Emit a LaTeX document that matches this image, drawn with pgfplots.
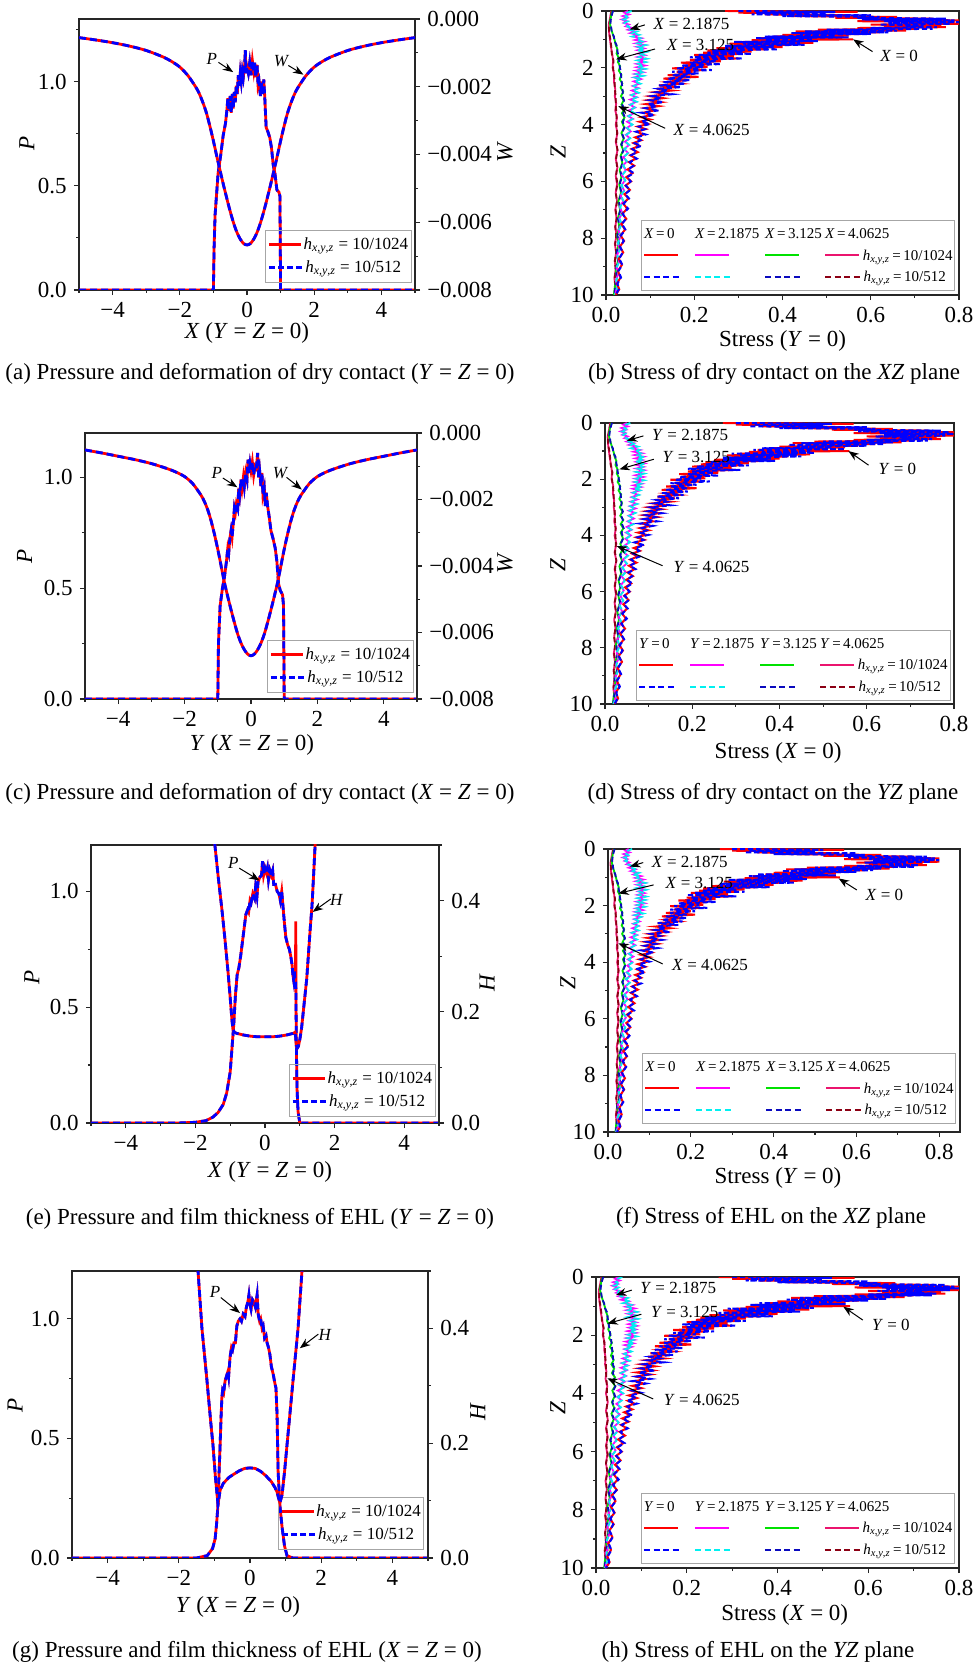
\documentclass[border=0pt]{standalone}
\usepackage{fontspec}
\setmainfont{Liberation Serif}
\usepackage{pgfplots}
\usepackage{pgfplotstable}
\pgfplotsset{compat=1.18}
\usetikzlibrary{arrows.meta}
\definecolor{cgreen}{RGB}{0,225,0}
\definecolor{cnavy}{RGB}{10,10,190}
\definecolor{ccrim}{RGB}{235,20,110}
\definecolor{cdred}{RGB}{140,0,20}
\definecolor{cmag}{RGB}{255,0,255}
\definecolor{ccyan}{RGB}{0,240,240}
\newcommand\tickfont{\fontsize{11.5}{13}\selectfont}
\newcommand\capfont{\fontsize{11.5}{13}\selectfont}
\newcommand\annfont{\fontsize{8.5}{10}\selectfont}
\newcommand\legfont{\fontsize{7.5}{9}\selectfont}
\newcommand\lleg{\fontsize{8.5}{10}\selectfont}
\newcommand\hxyz{\textit{h}\textsubscript{\textit{x},\textit{y},\textit{z}}}
\newcommand\sline[1]{\textcolor{#1}{\rule[0.55ex]{17pt}{1pt}}}
\newcommand\dline[1]{\textcolor{#1}{\rule[0.55ex]{3pt}{1pt}\hspace{1.8pt}\rule[0.55ex]{3pt}{1pt}\hspace{1.8pt}\rule[0.55ex]{3pt}{1pt}\hspace{1.8pt}\rule[0.55ex]{3pt}{1pt}}}
\newcommand\slineB[1]{\textcolor{#1}{\rule[0.5ex]{16pt}{1.4pt}}}
\newcommand\dlineB[1]{\textcolor{#1}{\rule[0.5ex]{3pt}{1.4pt}\hspace{1.6pt}\rule[0.5ex]{3pt}{1.4pt}\hspace{1.6pt}\rule[0.5ex]{3pt}{1.4pt}\hspace{1.6pt}\rule[0.5ex]{3pt}{1.4pt}}}
\pgfplotsset{
  base/.style={scale only axis, tick align=outside,
    axis line style={line width=0.6pt, black!85},
    every tick/.style={black!85, line width=0.6pt},
    major tick length=2.6pt, minor tick length=1.5pt,
    tick label style={font=\tickfont}, label style={font=\tickfont},
    scaled ticks=false},
  leftP/.style={base, xmin=-5, xmax=5, xtick={-4,-2,0,2,4}, xticklabels={−4,−2,0,2,4},
    minor xtick={-5,-3,-1,1,3,5}, tick pos=left, ytick={0,0.5,1}, yticklabels={0.0,0.5,1.0},
    minor ytick={0.25,0.75,1.25}},
  rightW/.style={base, xmin=-5, xmax=5, axis y line*=right, axis x line=none,
    ymin=-0.008, ymax=0, ytick={-0.008,-0.006,-0.004,-0.002,0},
    yticklabels={−0.008,−0.006,−0.004,−0.002,0.000}, minor ytick={-0.007,-0.005,-0.003,-0.001}},
  rightH/.style={base, xmin=-5, xmax=5, axis y line*=right, axis x line=none,
    ymin=0, ymax=0.5, ytick={0,0.2,0.4}, yticklabels={0.0,0.2,0.4}, minor ytick={0.1,0.3,0.5}},
  stress/.style={base, xmin=0, xmax=0.8, ymin=0, ymax=10, y dir=reverse,
    xtick={0,0.2,0.4,0.6,0.8}, xticklabels={0.0,0.2,0.4,0.6,0.8}, minor xtick={0.1,0.3,0.5,0.7},
    ytick={0,2,4,6,8,10}, yticklabels={0,2,4,6,8,10}, minor ytick={1,3,5,7,9}, tick pos=left},
  Pline/.style={red, line width=1.4pt},
  Pdash/.style={blue, line width=1.4pt, dash pattern=on 3.5pt off 2pt},
  sC1/.style={red, line width=1pt},
  sC1d/.style={blue, line width=1pt, dash pattern=on 2.5pt off 1.5pt},
  sC2/.style={cmag, line width=0.9pt},
  sC2d/.style={ccyan, line width=0.9pt, dash pattern=on 2.5pt off 1.5pt},
  sC3/.style={cgreen, line width=0.9pt},
  sC3d/.style={cnavy, line width=0.9pt, dash pattern=on 2.5pt off 1.5pt},
  sC4/.style={ccrim, line width=0.9pt},
  sC4d/.style={cdred, line width=0.9pt, dash pattern=on 2.5pt off 1.5pt},
}
\newcommand\stressplots{%
  \addplot[sC4] table[x=a,y=Z]{\TD};
  \addplot[sC4d] table[x=b,y=Z]{\TD};
  \addplot[sC3] table[x=a,y=Z]{\TC};
  \addplot[sC3d] table[x=b,y=Z]{\TC};
  \addplot[sC2] table[x=a,y=Z]{\TB};
  \addplot[sC2d] table[x=b,y=Z]{\TB};
  \addplot[sC1] table[x=a,y=Z]{\TA};
  \addplot[sC1d] table[x=b,y=Z]{\TA};
}
\newcommand\stresslegend[2]{%
  \node[draw=gray!70, line width=0.5pt, anchor=south east, inner sep=1.2pt, font=\legfont] at (rel axis cs:0.99,#2) {%
  \setlength\tabcolsep{0pt}\renewcommand\arraystretch{1.2}%
  \begin{tabular}{p{25.5pt}p{35pt}p{30pt}l}
  \textit{#1}\,=\,0 & \textit{#1}\,=\,2.1875 & \textit{#1}\,=\,3.125 & \textit{#1}\,=\,4.0625\\
  \sline{red} & \sline{cmag} & \sline{cgreen} & \sline{ccrim}\ \hxyz{}\,=\,10/1024\\
  \dline{blue} & \dline{ccyan} & \dline{cnavy} & \dline{cdred}\ \hxyz{}\,=\,10/512
  \end{tabular}};}
\newcommand\leftlegend[1]{%
  \node[draw=gray!70, line width=0.5pt, anchor=south east, inner sep=1.5pt, font=\lleg] at (rel axis cs:0.99,#1) {%
  \renewcommand\arraystretch{1.15}%
  \begin{tabular}{@{}l@{}}
  \slineB{red}\,\hxyz{} = 10/1024\\
  \dlineB{blue}\,\hxyz{} = 10/512
  \end{tabular}};}
\begin{document}
% ---------- pressure / deformation data ----------
\pgfplotstableread{
X P
-5 0
-1.0 0
-0.98 0.2
-0.95 0.36
-0.86 0.56
-0.78 0.65
-0.71 0.74
-0.64 0.8
-0.6 0.86
-0.57 0.92
-0.54 0.86
-0.5 0.93
-0.47 0.85
-0.44 0.94
-0.41 0.87
-0.38 0.95
-0.35 0.9
-0.32 0.98
-0.29 0.94
-0.26 1.03
-0.23 0.98
-0.2 1.04
-0.17 1.0
-0.14 1.05
-0.11 1.02
-0.07 1.08
-0.05 1.15
-0.03 1.04
0.0 1.07
0.04 1.04
0.08 1.09
0.12 1.03
0.16 1.1
0.2 1.05
0.23 1.09
0.26 1.02
0.3 1.08
0.33 0.98
0.36 1.0
0.4 0.93
0.43 1.0
0.46 0.94
0.5 1.01
0.53 0.92
0.57 0.78
0.62 0.76
0.68 0.73
0.73 0.68
0.78 0.6
0.83 0.56
0.89 0.48
0.95 0.47
0.98 0.45
1.0 0.0
5 0
}\PA
\pgfplotstableread{
X W
-5 -0.00055
-4.5 -0.00062
-4 -0.00070
-3.5 -0.00080
-3 -0.00093
-2.5 -0.00112
-2.25 -0.00125
-2 -0.00142
-1.75 -0.00168
-1.5 -0.00205
-1.4 -0.00225
-1.3 -0.00250
-1.2 -0.00280
-1.1 -0.00318
-1.0 -0.00360
-0.9 -0.00405
-0.8 -0.00448
-0.7 -0.00490
-0.6 -0.00530
-0.5 -0.00568
-0.4 -0.00602
-0.3 -0.00630
-0.2 -0.00650
-0.1 -0.00663
0 -0.00667
0.1 -0.00663
0.2 -0.00650
0.3 -0.00630
0.4 -0.00602
0.5 -0.00568
0.6 -0.00530
0.7 -0.00490
0.8 -0.00448
0.9 -0.00405
1.0 -0.00360
1.1 -0.00318
1.2 -0.00280
1.3 -0.00250
1.4 -0.00225
1.5 -0.00205
1.75 -0.00168
2 -0.00142
2.25 -0.00125
2.5 -0.00112
3 -0.00093
3.5 -0.00080
4 -0.00070
4.5 -0.00062
5 -0.00055
}\WA
\pgfplotstableread{
X P
-5 0
-1.0 0
-0.98 0.25
-0.93 0.42
-0.86 0.5
-0.8 0.55
-0.74 0.62
-0.7 0.68
-0.67 0.66
-0.64 0.72
-0.6 0.76
-0.57 0.73
-0.53 0.8
-0.5 0.86
-0.47 0.84
-0.44 0.88
-0.4 0.86
-0.37 0.95
-0.34 0.92
-0.3 0.99
-0.27 0.95
-0.23 1.0
-0.2 0.96
-0.16 1.02
-0.12 0.99
-0.09 1.08
-0.06 1.02
-0.03 1.06
0.0 1.03
0.04 1.07
0.08 1.01
0.12 1.05
0.16 1.04
0.2 1.11
0.23 1.0
0.26 1.03
0.3 0.96
0.33 1.02
0.36 0.92
0.4 0.95
0.43 0.87
0.46 0.93
0.5 0.87
0.55 0.82
0.6 0.76
0.67 0.72
0.73 0.68
0.78 0.62
0.83 0.52
0.88 0.49
0.95 0.47
0.98 0.42
1.0 0.0
5 0
}\PC
\pgfplotstableread{
X W
-5 -0.00051
-4.5 -0.00060
-4 -0.00070
-3.5 -0.00080
-3 -0.00092
-2.5 -0.00108
-2.25 -0.00118
-2 -0.00131
-1.75 -0.00153
-1.5 -0.00188
-1.4 -0.00207
-1.3 -0.00232
-1.2 -0.00265
-1.1 -0.00305
-1.0 -0.00350
-0.9 -0.00400
-0.8 -0.00450
-0.7 -0.00492
-0.6 -0.00532
-0.5 -0.00570
-0.4 -0.00605
-0.3 -0.00632
-0.2 -0.00652
-0.1 -0.00665
0 -0.00670
0.1 -0.00665
0.2 -0.00652
0.3 -0.00632
0.4 -0.00605
0.5 -0.00570
0.6 -0.00532
0.7 -0.00492
0.8 -0.00450
0.9 -0.00400
1.0 -0.00350
1.1 -0.00305
1.2 -0.00265
1.3 -0.00232
1.4 -0.00207
1.5 -0.00188
1.75 -0.00153
2 -0.00131
2.25 -0.00118
2.5 -0.00108
3 -0.00092
3.5 -0.00080
4 -0.00070
4.5 -0.00060
5 -0.00051
}\WC
\pgfplotstableread{
X P Q
-5 0 0
-2.5 0 0
-2.0 0.003 0.003
-1.7 0.01 0.01
-1.5 0.025 0.025
-1.35 0.045 0.045
-1.2 0.08 0.08
-1.1 0.13 0.13
-1.0 0.22 0.22
-0.95 0.32 0.32
-0.9 0.42 0.42
-0.85 0.55 0.55
-0.8 0.64 0.64
-0.75 0.67 0.67
-0.7 0.72 0.72
-0.65 0.78 0.78
-0.6 0.84 0.84
-0.55 0.9 0.9
-0.5 0.92 0.92
-0.47 0.91 0.91
-0.43 0.96 0.96
-0.4 0.95 0.95
-0.35 0.99 0.99
-0.3 0.97 0.97
-0.27 1.02 1.02
-0.23 0.98 0.98
-0.2 1.04 1.04
-0.15 1.06 1.06
-0.1 1.07 1.07
-0.07 1.13 1.13
-0.04 1.07 1.07
0.0 1.1 1.1
0.04 1.08 1.08
0.07 1.1 1.1
0.1 1.05 1.05
0.14 1.09 1.09
0.18 1.07 1.07
0.22 1.09 1.09
0.25 1.03 1.03
0.3 1.03 1.03
0.35 1.0 1.0
0.4 0.99 0.99
0.44 0.96 0.96
0.48 1.0 1.0
0.52 0.93 0.93
0.56 0.86 0.86
0.6 0.8 0.8
0.65 0.77 0.77
0.7 0.75 0.75
0.74 0.72 0.72
0.78 0.68 0.68
0.8 0.64 0.64
0.82 0.62 0.62
0.84 0.66 0.66
0.86 0.62 0.62
0.875 0.63 0.62
0.885 0.87 0.6
0.89 0.55 0.55
0.9 0.35 0.35
0.92 0.15 0.15
0.95 0.05 0.05
1.0 0.0 0.0
5 0 0
}\PE
\pgfplotstableread{
X H
-1.6 0.62
-1.44 0.50
-1.34 0.44
-1.24 0.385
-1.15 0.33
-1.06 0.27
-1.0 0.225
-0.95 0.185
-0.92 0.168
-0.88 0.163
-0.8 0.161
-0.6 0.158
-0.4 0.156
-0.2 0.155
0 0.155
0.2 0.155
0.4 0.156
0.6 0.158
0.8 0.161
0.86 0.163
0.88 0.155
0.9 0.14
0.93 0.135
0.96 0.138
1.0 0.15
1.05 0.17
1.1 0.2
1.2 0.26
1.3 0.35
1.35 0.39
1.4 0.45
1.44 0.5
1.55 0.6
}\HE
\pgfplotstableread{
X P
-5 0
-1.5 0
-1.2 0.01
-1.05 0.04
-0.98 0.08
-0.94 0.14
-0.9 0.22
-0.87 0.35
-0.84 0.47
-0.81 0.6
-0.79 0.67
-0.77 0.7
-0.74 0.69
-0.7 0.74
-0.66 0.76
-0.62 0.78
-0.6 0.76
-0.56 0.84
-0.52 0.88
-0.49 0.87
-0.45 0.9
-0.41 0.9
-0.37 0.97
-0.33 0.99
-0.28 1.0
-0.24 0.99
-0.19 1.02
-0.14 1.01
-0.1 1.05
-0.06 1.07
-0.03 1.1
0.0 1.06
0.03 1.04
0.07 1.08
0.11 1.07
0.15 1.05
0.2 1.1
0.23 1.02
0.27 0.99
0.3 1.0
0.34 0.96
0.37 0.97
0.41 0.92
0.45 0.93
0.48 0.9
0.52 0.88
0.56 0.85
0.6 0.8
0.65 0.77
0.7 0.73
0.73 0.71
0.76 0.6
0.79 0.36
0.84 0.22
0.9 0.13
0.97 0.05
1.04 0.01
1.2 0.0
5 0
}\PG
\pgfplotstableread{
X H
-1.6 0.62
-1.46 0.5
-1.35 0.40
-1.21 0.31
-1.1 0.235
-1.04 0.197
-0.97 0.14
-0.9 0.094
-0.87 0.105
-0.84 0.118
-0.75 0.13
-0.6 0.14
-0.48 0.145
-0.3 0.152
-0.15 0.156
0 0.157
0.15 0.156
0.3 0.151
0.45 0.143
0.6 0.133
0.7 0.123
0.76 0.115
0.8 0.105
0.84 0.096
0.9 0.11
0.97 0.15
1.04 0.197
1.12 0.25
1.21 0.31
1.35 0.40
1.46 0.5
1.6 0.62
}\HG
% ---------- stress data ----------
\pgfplotstableread{
Z a b
0.00 0.27 0.30
0.03 0.57 0.52
0.06 0.30 0.34
0.09 0.45 0.50
0.12 0.36 0.33
0.15 0.55 0.60
0.18 0.42 0.40
0.21 0.66 0.62
0.24 0.52 0.57
0.27 0.74 0.77
0.30 0.60 0.58
0.33 0.80 0.79
0.36 0.57 0.63
0.39 0.79 0.80
0.42 0.68 0.64
0.45 0.80 0.78
0.48 0.60 0.62
0.51 0.76 0.72
0.54 0.63 0.68
0.57 0.77 0.75
0.60 0.57 0.60
0.63 0.70 0.74
0.66 0.48 0.50
0.69 0.68 0.66
0.72 0.43 0.45
0.75 0.62 0.64
0.78 0.47 0.42
0.81 0.58 0.60
0.84 0.40 0.44
0.87 0.55 0.52
0.90 0.38 0.36
0.93 0.50 0.55
0.96 0.35 0.34
1.00 0.56 0.47
1.03 0.33 0.36
1.06 0.46 0.48
1.09 0.31 0.29
1.12 0.47 0.44
1.15 0.28 0.31
1.19 0.42 0.45
1.23 0.29 0.27
1.27 0.40 0.38
1.31 0.25 0.27
1.35 0.36 0.39
1.39 0.23 0.24
1.43 0.33 0.31
1.47 0.22 0.23
1.51 0.31 0.33
1.55 0.20 0.21
1.59 0.29 0.27
1.63 0.21 0.19
1.67 0.30 0.31
1.72 0.19 0.20
1.77 0.26 0.25
1.82 0.17 0.19
1.87 0.24 0.26
1.92 0.18 0.17
1.97 0.23 0.22
2.02 0.15 0.16
2.08 0.22 0.24
2.14 0.16 0.15
2.20 0.20 0.21
2.26 0.14 0.15
2.32 0.21 0.19
2.38 0.13 0.14
2.44 0.18 0.19
2.50 0.14 0.13
2.56 0.17 0.18
2.62 0.12 0.12
2.68 0.16 0.17
2.74 0.115 0.12
2.80 0.15 0.14
2.86 0.11 0.115
2.93 0.14 0.15
3.00 0.10 0.105
3.07 0.13 0.125
3.14 0.095 0.10
3.21 0.125 0.13
3.28 0.09 0.095
3.35 0.12 0.115
3.42 0.088 0.09
3.50 0.11 0.12
3.58 0.085 0.08
3.66 0.105 0.11
3.74 0.08 0.085
3.82 0.10 0.095
3.90 0.076 0.08
3.98 0.095 0.10
4.07 0.072 0.075
4.16 0.09 0.088
4.25 0.07 0.068
4.35 0.085 0.09
4.45 0.066 0.07
4.55 0.08 0.078
4.65 0.062 0.065
4.75 0.075 0.08
4.86 0.058 0.06
4.97 0.072 0.07
5.08 0.055 0.057
5.20 0.068 0.07
5.32 0.052 0.054
5.45 0.064 0.062
5.58 0.049 0.05
5.71 0.06 0.063
5.85 0.046 0.048
6.00 0.057 0.056
6.15 0.044 0.045
6.30 0.054 0.055
6.45 0.042 0.043
6.60 0.051 0.052
6.78 0.039 0.04
6.96 0.048 0.05
7.14 0.037 0.038
7.32 0.046 0.045
7.50 0.035 0.036
7.70 0.043 0.044
7.90 0.033 0.034
8.10 0.041 0.04
8.30 0.031 0.032
8.50 0.039 0.038
8.72 0.029 0.03
8.94 0.036 0.037
9.16 0.027 0.028
9.38 0.033 0.034
9.60 0.025 0.026
9.80 0.03 0.029
10.00 0.022 0.022
}\TA
\pgfplotstableread{
Z a b
0.00 0.05 0.058
0.06 0.042 0.048
0.12 0.052 0.05
0.18 0.038 0.044
0.24 0.048 0.052
0.30 0.036 0.04
0.36 0.047 0.05
0.42 0.04 0.042
0.48 0.052 0.05
0.54 0.045 0.048
0.60 0.06 0.058
0.66 0.05 0.054
0.72 0.066 0.07
0.78 0.055 0.06
0.84 0.072 0.075
0.90 0.062 0.06
0.96 0.08 0.078
1.02 0.066 0.07
1.08 0.085 0.082
1.14 0.068 0.072
1.20 0.088 0.09
1.26 0.07 0.074
1.32 0.086 0.088
1.38 0.072 0.07
1.44 0.09 0.092
1.50 0.074 0.076
1.56 0.088 0.086
1.62 0.072 0.075
1.68 0.09 0.092
1.74 0.073 0.072
1.80 0.087 0.09
1.86 0.07 0.074
1.92 0.088 0.085
1.98 0.07 0.072
2.04 0.086 0.089
2.10 0.068 0.07
2.16 0.084 0.082
2.22 0.066 0.069
2.28 0.082 0.085
2.34 0.064 0.066
2.40 0.079 0.08
2.48 0.063 0.065
2.56 0.076 0.078
2.64 0.061 0.063
2.72 0.074 0.073
2.80 0.059 0.061
2.88 0.072 0.074
2.96 0.057 0.058
3.04 0.07 0.069
3.12 0.055 0.057
3.20 0.068 0.07
3.30 0.054 0.055
3.40 0.066 0.065
3.50 0.052 0.054
3.60 0.063 0.065
3.70 0.05 0.051
3.80 0.061 0.06
3.90 0.048 0.05
4.00 0.059 0.06
4.12 0.047 0.048
4.24 0.056 0.057
4.36 0.045 0.046
4.48 0.054 0.055
4.60 0.043 0.044
4.72 0.052 0.053
4.86 0.041 0.042
5.00 0.05 0.05
5.15 0.039 0.04
5.30 0.047 0.048
5.45 0.038 0.039
5.60 0.045 0.046
5.78 0.036 0.037
5.96 0.043 0.044
6.14 0.035 0.035
6.32 0.041 0.042
6.50 0.033 0.034
6.70 0.039 0.04
6.90 0.031 0.032
7.10 0.037 0.038
7.30 0.03 0.03
7.50 0.035 0.036
7.72 0.028 0.029
7.94 0.033 0.034
8.16 0.027 0.027
8.38 0.031 0.032
8.60 0.025 0.026
8.82 0.03 0.03
9.04 0.024 0.024
9.26 0.028 0.029
9.48 0.022 0.023
9.70 0.026 0.026
10.00 0.02 0.02
}\TB
\pgfplotstableread{
Z a b
0.00 0.015 0.016
0.15 0.012 0.013
0.30 0.01 0.011
0.45 0.009 0.01
0.60 0.011 0.012
0.75 0.014 0.013
0.90 0.017 0.018
1.05 0.02 0.019
1.20 0.022 0.024
1.35 0.026 0.025
1.50 0.024 0.027
1.65 0.029 0.028
1.80 0.027 0.03
1.95 0.032 0.031
2.10 0.029 0.033
2.25 0.035 0.034
2.40 0.031 0.035
2.55 0.037 0.036
2.70 0.033 0.037
2.85 0.039 0.038
3.00 0.034 0.037
3.15 0.04 0.041
3.30 0.035 0.037
3.45 0.042 0.041
3.60 0.036 0.039
3.75 0.042 0.043
3.90 0.036 0.038
4.10 0.041 0.042
4.30 0.035 0.036
4.50 0.04 0.041
4.70 0.034 0.035
4.90 0.039 0.04
5.10 0.033 0.034
5.35 0.037 0.038
5.60 0.031 0.032
5.85 0.035 0.036
6.10 0.03 0.031
6.40 0.034 0.035
6.70 0.028 0.029
7.00 0.032 0.033
7.30 0.027 0.027
7.60 0.03 0.031
7.90 0.025 0.026
8.20 0.029 0.029
8.50 0.024 0.024
8.80 0.027 0.028
9.10 0.022 0.022
9.40 0.025 0.025
9.70 0.02 0.021
10.00 0.018 0.019
}\TC
\pgfplotstableread{
Z a b
0.00 0.012 0.013
0.25 0.009 0.01
0.50 0.006 0.007
0.75 0.007 0.007
1.00 0.009 0.01
1.25 0.011 0.012
1.50 0.014 0.013
1.75 0.016 0.017
2.00 0.015 0.016
2.25 0.019 0.018
2.50 0.018 0.02
2.75 0.021 0.02
3.00 0.02 0.022
3.25 0.023 0.022
3.50 0.021 0.023
3.75 0.025 0.024
4.00 0.022 0.024
4.30 0.026 0.025
4.60 0.022 0.023
4.90 0.026 0.026
5.20 0.022 0.023
5.50 0.026 0.025
5.80 0.022 0.023
6.10 0.025 0.026
6.40 0.022 0.022
6.70 0.025 0.025
7.00 0.021 0.022
7.30 0.024 0.024
7.60 0.021 0.021
7.90 0.024 0.023
8.20 0.02 0.021
8.50 0.023 0.023
8.80 0.02 0.02
9.10 0.022 0.022
9.40 0.019 0.02
9.70 0.021 0.021
10.00 0.019 0.02
}\TD
\begin{tikzpicture}
\useasboundingbox (0,0) rectangle (488.5pt,832.5pt);
% ================= (a) =================
\begin{axis}[leftP, at={(39.5pt,687.5pt)}, width=168pt, height=135.5pt, ymin=0, ymax=1.3,
  xlabel={\textit{X} (\textit{Y} = \textit{Z} = 0)}, ylabel={\textit{P}},
  xlabel style={at={(axis description cs:0.5,-0.159)},anchor=center},
  ylabel style={at={(axis description cs:-0.155,0.54)},anchor=center}]
  \addplot[Pline] table[x=X,y=P]{\PA};
  \addplot[Pdash] table[x=X,y=P]{\PA};
  \node[font=\annfont] at (axis cs:-1.05,1.109) {\textit{P}};
  \draw[-Stealth, line width=0.5pt] (axis cs:-0.85,1.092) -- (axis cs:-0.41,1.045);
  \node[font=\annfont] at (axis cs:1.03,1.10) {\textit{W}};
  \draw[-Stealth, line width=0.5pt] (axis cs:1.23,1.077) -- (axis cs:1.68,1.033);
  \leftlegend{0.026}
\end{axis}
\begin{axis}[rightW, at={(39.5pt,687.5pt)}, width=168pt, height=135.5pt, ylabel={\textit{W}},
  ylabel style={at={(axis description cs:1.268,0.51)},anchor=center}]
  \addplot[Pline, smooth] table[x=X,y=W]{\WA};
  \addplot[Pdash, smooth] table[x=X,y=W]{\WA};
\end{axis}
% ================= (b) =================
\begin{axis}[stress, at={(303pt,685pt)}, width=176.5pt, height=142pt,
  xlabel={Stress (\textit{Y} = 0)}, ylabel={\textit{Z}},
  xlabel style={at={(axis description cs:0.5,-0.162)},anchor=center},
  ylabel style={at={(axis description cs:-0.136,0.504)},anchor=center}]
  \stressplots
  \node[font=\annfont, anchor=west] at (axis cs:0.092,0.46) {\textit{X} = 2.1875};
  \draw[-Stealth, line width=0.5pt] (axis cs:0.088,0.49) -- (axis cs:0.054,0.65);
  \node[font=\annfont, anchor=west] at (axis cs:0.122,1.2) {\textit{X} = 3.125};
  \draw[-Stealth, line width=0.5pt] (axis cs:0.111,1.34) -- (axis cs:0.023,1.7);
  \node[font=\annfont, anchor=west] at (axis cs:0.1375,4.19) {\textit{X} = 4.0625};
  \draw[-Stealth, line width=0.5pt] (axis cs:0.134,4.13) -- (axis cs:0.028,3.35);
  \node[font=\annfont, anchor=west] at (axis cs:0.606,1.58) {\textit{X} = 0};
  \draw[-Stealth, line width=0.5pt] (axis cs:0.604,1.43) -- (axis cs:0.56,1.0);
  \stresslegend{X}{0.014}
\end{axis}
% ================= (c) =================
\begin{axis}[leftP, at={(42.5pt,483pt)}, width=166pt, height=133pt, ymin=0, ymax=1.2,
  minor ytick={0.25,0.75},
  xlabel={\textit{Y} (\textit{X} = \textit{Z} = 0)}, ylabel={\textit{P}},
  xlabel style={at={(axis description cs:0.503,-0.173)},anchor=center},
  ylabel style={at={(axis description cs:-0.182,0.534)},anchor=center}]
  \addplot[Pline] table[x=X,y=P]{\PC};
  \addplot[Pdash] table[x=X,y=P]{\PC};
  \node[font=\annfont] at (axis cs:-1.03,1.02) {\textit{P}};
  \draw[-Stealth, line width=0.5pt] (axis cs:-0.85,0.997) -- (axis cs:-0.41,0.955);
  \node[font=\annfont] at (axis cs:0.89,1.02) {\textit{W}};
  \draw[-Stealth, line width=0.5pt] (axis cs:1.07,1.0) -- (axis cs:1.53,0.945);
  \leftlegend{0.023}
\end{axis}
\begin{axis}[rightW, at={(42.5pt,483pt)}, width=166pt, height=133pt, ylabel={\textit{W}},
  ylabel style={at={(axis description cs:1.265,0.511)},anchor=center}]
  \addplot[Pline, smooth] table[x=X,y=W]{\WC};
  \addplot[Pdash, smooth] table[x=X,y=W]{\WC};
\end{axis}
% ================= (d) =================
\begin{axis}[stress, at={(302.5pt,480.5pt)}, width=174.5pt, height=140.5pt,
  xlabel={Stress (\textit{X} = 0)}, ylabel={\textit{Z}},
  xlabel style={at={(axis description cs:0.496,-0.174)},anchor=center},
  ylabel style={at={(axis description cs:-0.135,0.495)},anchor=center}]
  \stressplots
  \node[font=\annfont, anchor=west] at (axis cs:0.092,0.43) {\textit{Y} = 2.1875};
  \draw[-Stealth, line width=0.5pt] (axis cs:0.088,0.46) -- (axis cs:0.05,0.63);
  \node[font=\annfont, anchor=west] at (axis cs:0.116,1.2) {\textit{Y} = 3.125};
  \draw[-Stealth, line width=0.5pt] (axis cs:0.112,1.29) -- (axis cs:0.033,1.65);
  \node[font=\annfont, anchor=west] at (axis cs:0.141,5.11) {\textit{Y} = 4.0625};
  \draw[-Stealth, line width=0.5pt] (axis cs:0.132,5.08) -- (axis cs:0.027,4.38);
  \node[font=\annfont, anchor=west] at (axis cs:0.611,1.65) {\textit{Y} = 0};
  \draw[-Stealth, line width=0.5pt] (axis cs:0.604,1.5) -- (axis cs:0.558,1.0);
  \stresslegend{Y}{0.011}
\end{axis}
% ================= (e) =================
\begin{axis}[leftP, at={(45.5pt,271pt)}, width=174pt, height=139pt, ymin=0, ymax=1.2,
  minor ytick={0.25,0.75},
  xlabel={\textit{X} (\textit{Y} = \textit{Z} = 0)}, ylabel={\textit{P}},
  xlabel style={at={(axis description cs:0.514,-0.176)},anchor=center},
  ylabel style={at={(axis description cs:-0.17,0.525)},anchor=center}]
  \addplot[Pline] table[x=X,y=P]{\PE};
  \addplot[Pdash] table[x=X,y=Q]{\PE};
  \node[font=\annfont] at (axis cs:-0.91,1.122) {\textit{P}};
  \draw[-Stealth, line width=0.5pt] (axis cs:-0.74,1.10) -- (axis cs:-0.16,1.047);
  \node[font=\annfont] at (axis cs:2.06,0.961) {\textit{H}};
  \draw[-Stealth, line width=0.5pt] (axis cs:1.89,0.967) -- (axis cs:1.37,0.911);
  \leftlegend{0.022}
\end{axis}
\begin{axis}[rightH, at={(45.5pt,271pt)}, width=174pt, height=139pt, ylabel={\textit{H}},
  ylabel style={at={(axis description cs:1.138,0.504)},anchor=center}]
  \addplot[Pline] table[x=X,y=H]{\HE};
  \addplot[Pdash] table[x=X,y=H]{\HE};
\end{axis}
% ================= (f) =================
\begin{axis}[stress, at={(304pt,266.5pt)}, width=176pt, height=141.5pt, xmax=0.85,
  xlabel={Stress (\textit{Y} = 0)}, ylabel={\textit{Z}},
  xlabel style={at={(axis description cs:0.483,-0.163)},anchor=center},
  ylabel style={at={(axis description cs:-0.114,0.527)},anchor=center}]
  \stressplots
  \node[font=\annfont, anchor=west] at (axis cs:0.089,0.45) {\textit{X} = 2.1875};
  \draw[-Stealth, line width=0.5pt] (axis cs:0.085,0.48) -- (axis cs:0.053,0.62);
  \node[font=\annfont, anchor=west] at (axis cs:0.122,1.19) {\textit{X} = 3.125};
  \draw[-Stealth, line width=0.5pt] (axis cs:0.11,1.27) -- (axis cs:0.025,1.57);
  \node[font=\annfont, anchor=west] at (axis cs:0.138,4.1) {\textit{X} = 4.0625};
  \draw[-Stealth, line width=0.5pt] (axis cs:0.132,4.06) -- (axis cs:0.025,3.33);
  \node[font=\annfont, anchor=west] at (axis cs:0.605,1.63) {\textit{X} = 0};
  \draw[-Stealth, line width=0.5pt] (axis cs:0.601,1.45) -- (axis cs:0.557,1.04);
  \stresslegend{X}{0.028}
\end{axis}
% ================= (g) =================
\begin{axis}[leftP, at={(36pt,53.5pt)}, width=178pt, height=143.5pt, ymin=0, ymax=1.2,
  minor ytick={0.25,0.75},
  xlabel={\textit{Y} (\textit{X} = \textit{Z} = 0)}, ylabel={\textit{P}},
  xlabel style={at={(axis description cs:0.466,-0.171)},anchor=center},
  ylabel style={at={(axis description cs:-0.16,0.533)},anchor=center}]
  \addplot[Pline] table[x=X,y=P]{\PG};
  \addplot[Pdash] table[x=X,y=P]{\PG};
  \node[font=\annfont] at (axis cs:-0.98,1.114) {\textit{P}};
  \draw[-Stealth, line width=0.5pt] (axis cs:-0.82,1.089) -- (axis cs:-0.28,1.024);
  \node[font=\annfont] at (axis cs:2.11,0.933) {\textit{H}};
  \draw[-Stealth, line width=0.5pt] (axis cs:1.92,0.936) -- (axis cs:1.40,0.877);
  \leftlegend{0.028}
\end{axis}
\begin{axis}[rightH, at={(36pt,53.5pt)}, width=178pt, height=143.5pt, ylabel={\textit{H}},
  ylabel style={at={(axis description cs:1.14,0.509)},anchor=center}]
  \addplot[Pline] table[x=X,y=H]{\HG};
  \addplot[Pdash] table[x=X,y=H]{\HG};
\end{axis}
% ================= (h) =================
\begin{axis}[stress, at={(298pt,48.5pt)}, width=181.5pt, height=145.5pt,
  xlabel={Stress (\textit{X} = 0)}, ylabel={\textit{Z}},
  xlabel style={at={(axis description cs:0.52,-0.162)},anchor=center},
  ylabel style={at={(axis description cs:-0.105,0.55)},anchor=center}]
  \stressplots
  \node[font=\annfont, anchor=west] at (axis cs:0.082,0.39) {\textit{Y} = 2.1875};
  \draw[-Stealth, line width=0.5pt] (axis cs:0.079,0.45) -- (axis cs:0.044,0.62);
  \node[font=\annfont, anchor=west] at (axis cs:0.106,1.19) {\textit{Y} = 3.125};
  \draw[-Stealth, line width=0.5pt] (axis cs:0.1,1.28) -- (axis cs:0.025,1.6);
  \node[font=\annfont, anchor=west] at (axis cs:0.134,4.23) {\textit{Y} = 4.0625};
  \draw[-Stealth, line width=0.5pt] (axis cs:0.126,4.19) -- (axis cs:0.025,3.48);
  \node[font=\annfont, anchor=west] at (axis cs:0.593,1.63) {\textit{Y} = 0};
  \draw[-Stealth, line width=0.5pt] (axis cs:0.588,1.48) -- (axis cs:0.545,1.02);
  \stresslegend{Y}{0.014}
\end{axis}
% ================= captions =================
\node[font=\capfont] at (130pt,645.5pt) {(a) Pressure and deformation of dry contact (\textit{Y} = \textit{Z} = 0)};
\node[font=\capfont] at (387pt,645.5pt) {(b) Stress of dry contact on the \textit{XZ} plane};
\node[font=\capfont] at (130pt,435.5pt) {(c) Pressure and deformation of dry contact (\textit{X} = \textit{Z} = 0)};
\node[font=\capfont] at (386.5pt,435.5pt) {(d) Stress of dry contact on the \textit{YZ} plane};
\node[font=\capfont] at (130pt,223pt) {(e) Pressure and film thickness of EHL (\textit{Y} = \textit{Z} = 0)};
\node[font=\capfont] at (385.5pt,223.5pt) {(f) Stress of EHL on the \textit{XZ} plane};
\node[font=\capfont] at (123.5pt,6.5pt) {(g) Pressure and film thickness of EHL (\textit{X} = \textit{Z} = 0)};
\node[font=\capfont] at (379pt,6.5pt) {(h) Stress of EHL on the \textit{YZ} plane};
\end{tikzpicture}
\end{document}
